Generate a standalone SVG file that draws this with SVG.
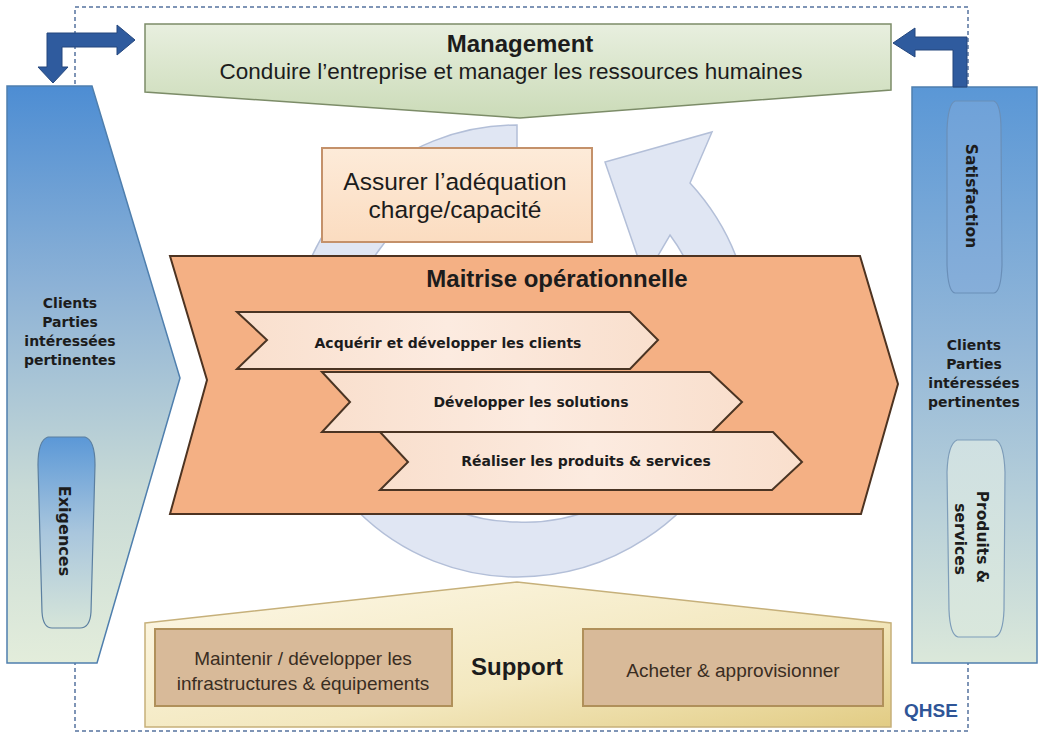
<svg xmlns="http://www.w3.org/2000/svg" width="1042" height="734" viewBox="0 0 1042 734">
<defs>
<style>
.t{font-family:"Liberation Sans",Arial,sans-serif;fill:#1c1c1c}
.b{font-weight:bold}
.d{font-family:"DejaVu Sans",Verdana,sans-serif;font-weight:bold;fill:#1c1c1c}
.m{text-anchor:middle}
.blue{fill:#2f5b9e;stroke:#24477d;stroke-width:1}
.chev{stroke:#4a3423;stroke-width:2;fill:url(#gChev)}
.sbox{fill:#d8ba99;stroke:#b0905a;stroke-width:2}
.cap{stroke-width:1.2}
</style>
<linearGradient id="gLeft" x1="0" y1="0" x2="0" y2="1">
<stop offset="0" stop-color="#4d8dd3"/>
<stop offset="0.35" stop-color="#8db2d6"/>
<stop offset="0.7" stop-color="#c8dad6"/>
<stop offset="1" stop-color="#e3eddb"/>
</linearGradient>
<linearGradient id="gRight" x1="0" y1="0" x2="0" y2="1">
<stop offset="0" stop-color="#5a97d6"/>
<stop offset="0.45" stop-color="#93b7d8"/>
<stop offset="1" stop-color="#dbe8da"/>
</linearGradient>
<linearGradient id="gCapL" x1="0" y1="0" x2="0" y2="1">
<stop offset="0" stop-color="#5b98d7"/>
<stop offset="0.5" stop-color="#a9c6dd"/>
<stop offset="1" stop-color="#d6e5d9"/>
</linearGradient>
<linearGradient id="gCapS" x1="0" y1="0" x2="0" y2="1">
<stop offset="0" stop-color="#6fa2d9"/>
<stop offset="1" stop-color="#86aed9"/>
</linearGradient>
<linearGradient id="gCapP" x1="0" y1="0" x2="0" y2="1">
<stop offset="0" stop-color="#cfe0e2"/>
<stop offset="1" stop-color="#d9e7dc"/>
</linearGradient>
<linearGradient id="gMgmt" x1="0" y1="0" x2="0" y2="1">
<stop offset="0" stop-color="#e8efdf"/>
<stop offset="1" stop-color="#cbdbb8"/>
</linearGradient>
<linearGradient id="gSup" x1="0" y1="0" x2="1" y2="1">
<stop offset="0" stop-color="#fdf8e8"/>
<stop offset="0.6" stop-color="#f3e8bf"/>
<stop offset="1" stop-color="#e2cc84"/>
</linearGradient>
<linearGradient id="gChev" x1="0" y1="0" x2="1" y2="0">
<stop offset="0" stop-color="#f9dfcd"/>
<stop offset="0.5" stop-color="#fcebe0"/>
<stop offset="1" stop-color="#f9dfcd"/>
</linearGradient>
<linearGradient id="gAss" x1="0" y1="0" x2="0" y2="1">
<stop offset="0" stop-color="#fdebd9"/>
<stop offset="1" stop-color="#fbdcc0"/>
</linearGradient>
</defs>
<rect width="1042" height="734" fill="#ffffff"/>

<g id="qhse-frame">
<rect x="75" y="7" width="893" height="724" fill="none" stroke="#55739f" stroke-width="1.5" stroke-dasharray="4 3"/>
<text class="t b m" x="931" y="717" font-size="19" style="fill:#2f5597">QHSE</text>
</g>

<g id="cycle">
<path d="M517,125 A226,226 0 0 0 517,577 A235,235 0 0 0 690,183 L712,132 L605,162 L645,278 L670,235 A180,180 0 0 1 517,522 A171,171 0 0 1 517,180 Z" fill="#e0e6f3" stroke="#b3bfd8" stroke-width="1.5"/>
</g>

<g id="management">
<polygon points="145,24 891,24 891,90 520,118 145,92" fill="url(#gMgmt)" stroke="#7c8c68" stroke-width="1.5"/>
<text class="t b m" x="520" y="52" font-size="24">Management</text>
<text class="t m" x="511" y="79" font-size="22.5">Conduire l’entreprise et manager les ressources humaines</text>
</g>

<g id="clients-left">
<polygon points="7,86 92,86 180,378 97,663 7,663" fill="url(#gLeft)" stroke="#4f7fae" stroke-width="1.5"/>
<text class="d m" x="70" y="308" font-size="14">Clients</text>
<text class="d m" x="70" y="327" font-size="14">Parties</text>
<text class="d m" x="70" y="346" font-size="14">intéressées</text>
<text class="d m" x="70" y="365" font-size="14">pertinentes</text>
</g>

<g id="exigences">
<path class="cap" d="M48,437 L85,437 Q95,440 95,465 L91,612 Q90,628 80,628 L52,628 Q43,628 42,612 L38,465 Q38,440 48,437 Z" fill="url(#gCapL)" stroke="#5b7fa0"/>
<text class="d m" transform="translate(59,531) rotate(90)" font-size="16">Exigences</text>
</g>

<g id="clients-right">
<rect x="912" y="87" width="125" height="576" fill="url(#gRight)" stroke="#4f7fae" stroke-width="1.5"/>
<text class="d m" x="974" y="350" font-size="14">Clients</text>
<text class="d m" x="974" y="369" font-size="14">Parties</text>
<text class="d m" x="974" y="388" font-size="14">intéressées</text>
<text class="d m" x="974" y="407" font-size="14">pertinentes</text>
</g>

<g id="satisfaction">
<path class="cap" d="M955,101 L994,101 Q1001,104 1001,130 L1002,265 Q1001,292 994,293 L955,293 Q948,292 947,265 L947,130 Q948,104 955,101 Z" fill="url(#gCapS)" stroke="#6a8fb8"/>
<text class="d m" transform="translate(966,196) rotate(90)" font-size="15.5">Satisfaction</text>
</g>

<g id="produits">
<path class="cap" d="M957,440 L996,440 Q1004,444 1005,472 L1004,610 Q1003,635 995,637 L958,637 Q950,635 949,610 L947,472 Q948,444 957,440 Z" fill="url(#gCapP)" stroke="#7e9db9"/>
<text class="d m" transform="translate(977,537) rotate(90)" font-size="15.5">Produits &amp;</text>
<text class="d m" transform="translate(955,539) rotate(90)" font-size="15.5">services</text>
</g>

<g id="assurer">
<rect x="322" y="148" width="270" height="94" fill="url(#gAss)" stroke="#c4916a" stroke-width="2"/>
<text class="t m" x="455" y="190" font-size="24.5">Assurer l’adéquation</text>
<text class="t m" x="455" y="218" font-size="24.5">charge/capacité</text>
</g>

<g id="maitrise">
<polygon points="170,256 860,256 898,384 861,514 170,514 207,380" fill="#f4b084" stroke="#4d3321" stroke-width="2"/>
<text class="t b m" x="557" y="287" font-size="24">Maitrise opérationnelle</text>
</g>

<g id="acquerir">
<polygon class="chev" points="237,312 630,312 658,340 630,369 237,369 267,340"/>
<text class="d m" x="448" y="348" font-size="14">Acquérir et développer les clients</text>
</g>

<g id="developper">
<polygon class="chev" points="322,372 710,372 742,402 712,432 322,432 350,402"/>
<text class="d m" x="531" y="407" font-size="14">Développer les solutions</text>
</g>

<g id="realiser">
<polygon class="chev" points="380,432 773,432 802,462 772,490 380,490 408,462"/>
<text class="d m" x="586" y="466" font-size="14">Réaliser les produits &amp; services</text>
</g>

<g id="support">
<polygon points="145,623 517,582 891,623 891,727 145,727" fill="url(#gSup)" stroke="#c6b07a" stroke-width="1.5"/>
<text class="t b m" x="517" y="675" font-size="24">Support</text>
</g>

<g id="maintenir">
<rect class="sbox" x="155" y="629" width="297" height="77"/>
<text class="t m" x="303" y="665" font-size="19" style="fill:#3a2d22">Maintenir / développer les</text>
<text class="t m" x="303" y="690" font-size="19" style="fill:#3a2d22">infrastructures &amp; équipements</text>
</g>

<g id="acheter">
<rect class="sbox" x="583" y="629" width="300" height="77"/>
<text class="t m" x="733" y="677" font-size="19" style="fill:#3a2d22">Acheter &amp; approvisionner</text>
</g>

<g id="connectors">
<path class="blue" d="M47,33 L117,33 L117,25 L135,40 L117,55 L117,47 L62,47 L62,67 L68,67 L53,83 L38,67 L47,67 Z"/>
<path class="blue" d="M967,37 L967,87 L953,87 L953,50 L915,50 L915,57 L893,43 L915,28 L915,37 Z"/>
</g>
</svg>
